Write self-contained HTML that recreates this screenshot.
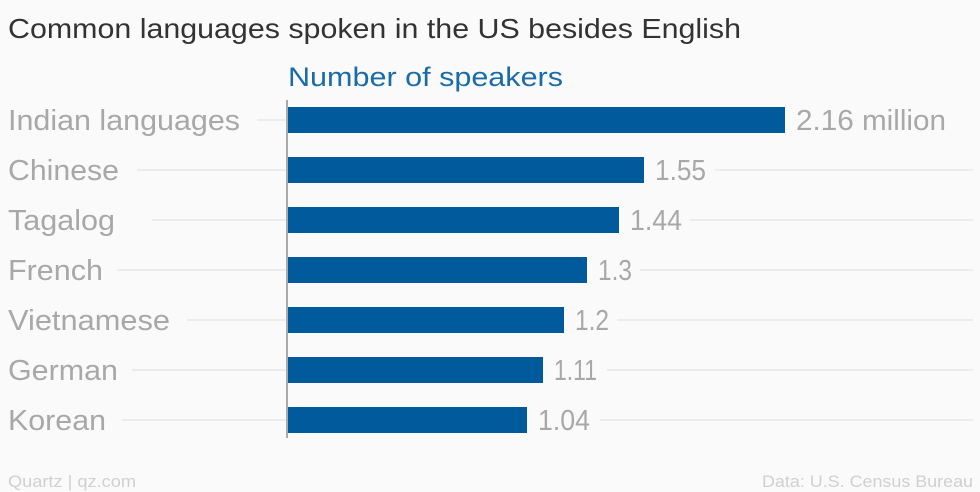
<!DOCTYPE html>
<html><head><style>body{margin:0;background:#fafafa}svg{display:block}</style></head><body>
<svg width="980" height="492" xmlns="http://www.w3.org/2000/svg" font-family="Liberation Sans, sans-serif">
<rect width="980" height="492" fill="#fafafa"/>
<text x="8" y="38" font-size="28" fill="#333" textLength="733" lengthAdjust="spacingAndGlyphs">Common languages spoken in the US besides English</text>
<text x="288" y="86" font-size="27" fill="#1a6ca8" textLength="275" lengthAdjust="spacingAndGlyphs">Number of speakers</text>
<g stroke="#e8e8e8" stroke-width="1.5">
<line x1="257" y1="120" x2="287" y2="120"/>
<line x1="137" y1="170" x2="287" y2="170"/><line x1="715" y1="170" x2="973" y2="170"/>
<line x1="152" y1="220" x2="287" y2="220"/><line x1="690" y1="220" x2="973" y2="220"/>
<line x1="117" y1="270" x2="287" y2="270"/><line x1="640" y1="270" x2="973" y2="270"/>
<line x1="187" y1="320" x2="287" y2="320"/><line x1="617" y1="320" x2="973" y2="320"/>
<line x1="132" y1="370" x2="287" y2="370"/><line x1="607" y1="370" x2="973" y2="370"/>
<line x1="122" y1="420" x2="287" y2="420"/><line x1="600" y1="420" x2="973" y2="420"/>
</g>
<g fill="#005a9c">
<rect x="287" y="107" width="498" height="26"/>
<rect x="287" y="157" width="357" height="26"/>
<rect x="287" y="207" width="332" height="26"/>
<rect x="287" y="257" width="300" height="26"/>
<rect x="287" y="307" width="277" height="26"/>
<rect x="287" y="357" width="256" height="26"/>
<rect x="287" y="407" width="240" height="26"/>
</g>
<line x1="287" y1="100" x2="287" y2="438" stroke="#aaa" stroke-width="2"/>
<g font-size="29" fill="#a8a8a8" lengthAdjust="spacingAndGlyphs">
<text x="8" y="130" textLength="232" lengthAdjust="spacingAndGlyphs">Indian languages</text>
<text x="8" y="180" textLength="111" lengthAdjust="spacingAndGlyphs">Chinese</text>
<text x="8" y="230" textLength="107" lengthAdjust="spacingAndGlyphs">Tagalog</text>
<text x="8" y="280" textLength="95" lengthAdjust="spacingAndGlyphs">French</text>
<text x="8" y="330" textLength="162" lengthAdjust="spacingAndGlyphs">Vietnamese</text>
<text x="8" y="380" textLength="110" lengthAdjust="spacingAndGlyphs">German</text>
<text x="8" y="430" textLength="98" lengthAdjust="spacingAndGlyphs">Korean</text>
<text x="796" y="130" textLength="150" lengthAdjust="spacingAndGlyphs">2.16 million</text>
<text x="655" y="180" textLength="51" lengthAdjust="spacingAndGlyphs">1.55</text>
<text x="630" y="230" textLength="52" lengthAdjust="spacingAndGlyphs">1.44</text>
<text x="598" y="280" textLength="34" lengthAdjust="spacingAndGlyphs">1.3</text>
<text x="575" y="330" textLength="34" lengthAdjust="spacingAndGlyphs">1.2</text>
<text x="554" y="380" textLength="43" lengthAdjust="spacingAndGlyphs">1.11</text>
<text x="538" y="430" textLength="52" lengthAdjust="spacingAndGlyphs">1.04</text>
</g>
<g font-size="17" fill="#d0d0d0">
<text x="8" y="487" textLength="128" lengthAdjust="spacingAndGlyphs">Quartz | qz.com</text>
<text x="762" y="487" textLength="211" lengthAdjust="spacingAndGlyphs">Data: U.S. Census Bureau</text>
</g>
</svg>
</body></html>
